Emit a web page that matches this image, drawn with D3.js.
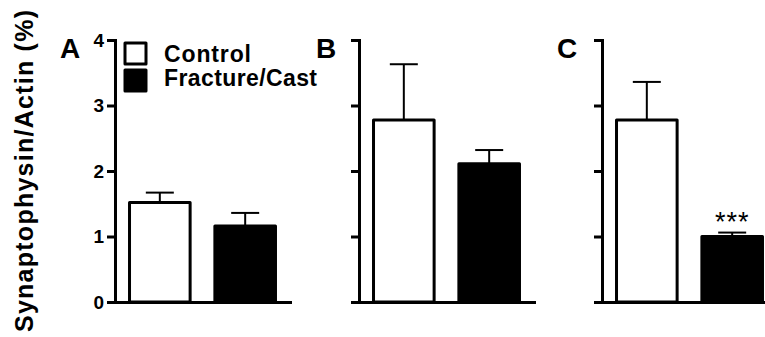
<!DOCTYPE html>
<html>
<head>
<meta charset="utf-8">
<script src="https://cdn.jsdelivr.net/npm/d3@7"></script>
<style>
  body { margin: 0; background: #fff; }
  svg { display: block; font-family: "Liberation Sans", Arial, Helvetica, sans-serif; }
</style>
</head>
<body>
<script>
var svg_width = 765;
var svg_height = 337;

// data
var panels = ["A", "B", "C"];
var groups = ["Control", "Fracture/Cast"];
var controlMean = [1.52, 2.78, 2.78];
var controlSem = [0.15, 0.85, 0.58];
var fractureMean = [1.16, 2.11, 1.0];
var fractureSem = [0.2, 0.21, 0.06];
var yTicks = [0, 1, 2, 3, 4];
var stars = ["", "", "***"];

var panelX = [115, 359, 602];
var labelDx = [-55, -43, -45];
var panelWidth = 175;

var svg = d3.select('body').append('svg')
  .attr('width', svg_width)
  .attr('height', svg_height);

var yscale = d3.scaleLinear().domain([0, 4]).range([302, 40]);
var xscale = d3.scaleBand().domain(groups).range([0, panelWidth])
  .paddingInner(0.29).paddingOuter(0.17);

panels.forEach(function(p, i) {
  var g = svg.append('g').attr('transform', 'translate(' + panelX[i] + ',0)');
  var vals = [controlMean[i], fractureMean[i]];
  var sems = [controlSem[i], fractureSem[i]];

  // error bars (upper half only)
  groups.forEach(function(grp, j) {
    var cx = xscale(grp) + xscale.bandwidth() / 2;
    var top = yscale(vals[j] + sems[j]);
    g.append('line')
      .attr('x1', cx).attr('x2', cx)
      .attr('y1', yscale(vals[j])).attr('y2', top)
      .attr('stroke', '#000').attr('stroke-width', 2);
    g.append('line')
      .attr('x1', cx - 14).attr('x2', cx + 14)
      .attr('y1', top).attr('y2', top)
      .attr('stroke', '#000').attr('stroke-width', 2);
  });

  g.selectAll('rect.bar').data(groups).enter().append('rect')
    .attr('class', 'bar')
    .attr('x', function(d) { return xscale(d); })
    .attr('width', xscale.bandwidth())
    .attr('y', function(d, j) { return yscale(vals[j]); })
    .attr('height', function(d, j) { return yscale(0) - yscale(vals[j]); })
    .attr('fill', function(d, j) { return j == 0 ? '#fff' : '#000'; })
    .attr('stroke', '#000')
    .attr('stroke-width', 3)
    .attr('stroke-linejoin', 'round');

  var yaxis = d3.axisLeft(yscale).tickValues(yTicks).tickSize(8).tickSizeOuter(0)
    .tickPadding(3).tickFormat(d3.format('d'));
  if (i > 0) yaxis.tickFormat('');
  var ya = g.append('g').call(yaxis);
  ya.select('.domain').attr('stroke-width', 3).attr('stroke-linecap', 'square');
  ya.selectAll('.tick line').attr('stroke-width', 3);
  ya.selectAll('.tick text')
    .attr('font-size', 19).attr('font-weight', 'bold')
    .attr('font-family', '"Liberation Sans", Arial, sans-serif')
    .attr('fill', '#000');

  var xa = g.append('g').attr('transform', 'translate(0,' + yscale(0) + ')')
    .call(d3.axisBottom(xscale).tickSize(0).tickSizeOuter(0).tickFormat(''));
  xa.select('.domain').attr('stroke-width', 3).attr('stroke-linecap', 'square');

  g.append('text')
    .attr('x', labelDx[i])
    .attr('y', 58)
    .attr('font-size', 28).attr('font-weight', 'bold')
    .text(p);

  if (stars[i]) {
    var sx = xscale(groups[1]) + xscale.bandwidth() / 2;
    g.append('text')
      .attr('x', sx).attr('y', 231)
      .attr('text-anchor', 'middle')
      .attr('font-size', 27).attr('letter-spacing', 1)
      .text(stars[i]);
  }
});

// legend
var legend = svg.append('g');
groups.forEach(function(grp, j) {
  legend.append('rect')
    .attr('x', 125).attr('y', 43 + j * 27)
    .attr('width', 21).attr('height', 21)
    .attr('fill', j == 0 ? '#fff' : '#000')
    .attr('stroke', '#000').attr('stroke-width', 3)
    .attr('stroke-linejoin', 'round');
  legend.append('text')
    .attr('x', 164).attr('y', 62 + j * 24)
    .attr('font-size', 23).attr('font-weight', 'bold')
    .attr('textLength', j == 0 ? 87 : 153)
    .text(grp);
});

// y title
svg.append('text')
  .attr('transform', 'translate(33,171) rotate(-90)')
  .attr('text-anchor', 'middle')
  .attr('font-size', 25).attr('font-weight', 'bold')
  .attr('textLength', 322)
  .text('Synaptophysin/Actin (%)');
</script>
</body>
</html>
